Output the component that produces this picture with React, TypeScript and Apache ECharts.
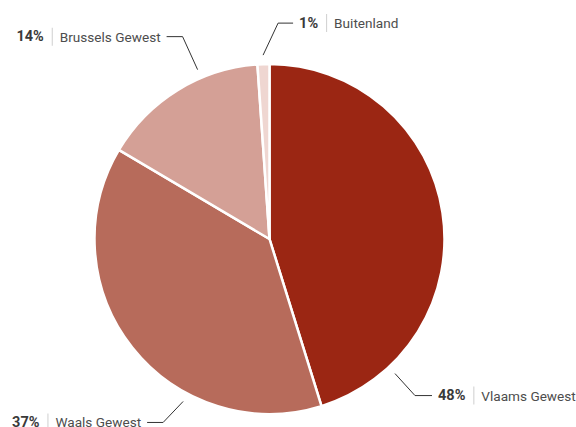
import React, { useEffect, useRef } from "react";
import * as echarts from "echarts";

const categories = ["Vlaams Gewest", "Waals Gewest", "Brussels Gewest", "Buitenland"];
// slice shares as drawn in the picture
const sliceValues = [45.2, 38.3, 15.4, 1.1];
// percentages printed in the labels
const labelPercents = [48, 37, 14, 1];
const colors = ["#9b2613", "#b76b5b", "#d4a096", "#efd6d1"];

// label guide layout: angle (deg clockwise from top) where the leader starts,
// bend offset, horizontal run, label side
const guides = [
  { angle: 137, bend: [20, 22], run: 17, side: "left" },
  { angle: 208, bend: [-20, 21], run: -16, side: "right" },
  { angle: 337, bend: [-15, -33], run: -16, side: "right" },
  { angle: 358, bend: [15, -32], run: 15, side: "left" },
];

const CX = 269.5;
const CY = 239;
const R = 175;
const R_LEADER = 184;

export default function App() {
  const ref = useRef<HTMLDivElement>(null);
  useEffect(() => {
    if (!ref.current) return;
    const chart = echarts.init(ref.current, undefined, { renderer: "svg" });
    chart.setOption({
      animation: false,
      backgroundColor: "#ffffff",
      series: [
        {
          type: "pie",
          center: [CX, CY],
          radius: R,
          startAngle: 90,
          clockwise: true,
          itemStyle: { borderColor: "#ffffff", borderWidth: 2.5 },
          emphasis: { disabled: true },
          data: categories.map((name, i) => ({
            name,
            value: sliceValues[i],
            itemStyle: { color: colors[i] },
          })),
          label: {
            show: true,
            position: "outside",
            overflow: "none",
            formatter: (p: any) =>
              `{p|${labelPercents[p.dataIndex]}%}{sep|}{n|${p.name}}`,
            rich: {
              p: {
                fontFamily: "Roboto, sans-serif",
                fontWeight: "bold",
                fontSize: 14.5,
                color: "#3a3a3a",
                padding: [0, 8, 0, 0],
              },
              sep: {
                width: 1,
                height: 18,
                backgroundColor: "#cfcfcf",
              },
              n: {
                fontFamily: "Roboto, sans-serif",
                fontSize: 13.6,
                color: "#4d4d4d",
                padding: [0, 0, 0, 7],
              },
            },
          },
          labelLine: {
            show: true,
            lineStyle: { color: "#333333", width: 1 },
          },
          labelLayout: (params: any) => {
            const g = guides[params.dataIndex];
            const a = (g.angle * Math.PI) / 180;
            const x0 = CX + R_LEADER * Math.sin(a);
            const y0 = CY - R_LEADER * Math.cos(a);
            const x1 = x0 + g.bend[0];
            const y1 = y0 + g.bend[1];
            const x2 = x1 + g.run;
            const gap = 6;
            return {
              x: g.side === "left" ? x2 + gap : x2 - gap,
              y: y1,
              align: g.side === "left" ? "left" : "right",
              verticalAlign: "middle",
              labelLinePoints: [
                [x0, y0],
                [x1, y1],
                [x2, y1],
              ],
            };
          },
        },
      ],
    });
    return () => chart.dispose();
  }, []);
  return (
    <div
      ref={ref}
      style={{ position: "absolute", left: 0, top: 0, width: 576, height: 427 }}
    />
  );
}
